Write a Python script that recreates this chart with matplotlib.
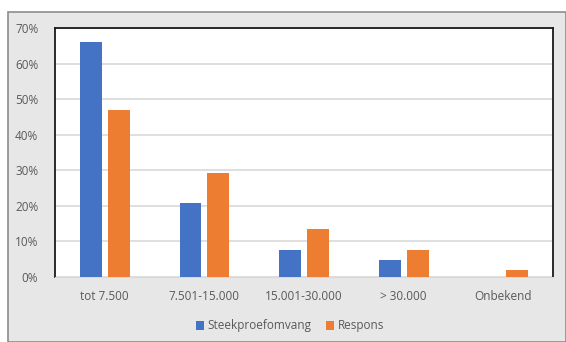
import matplotlib.pyplot as plt
import numpy as np
from matplotlib.patches import Rectangle
from matplotlib.ticker import PercentFormatter

categories = ['tot 7.500', '7.501-15.000', '15.001-30.000', '> 30.000', 'Onbekend']
steekproef = [66.2, 20.8, 7.7, 4.8, 0.0]
respons = [46.9, 29.1, 13.5, 7.7, 2.0]

blue = '#4472c4'
orange = '#ed7d31'
grey_text = '#595959'

plt.rcParams['font.family'] = ['Open Sans', 'DejaVu Sans']

W, H = 566, 342
fig = plt.figure(figsize=(W / 100, H / 100), dpi=100)
fig.patch.set_facecolor('white')

# grey chart panel with darker edge, kept behind the axes
panel = Rectangle((8 / W, 0), 1 - 8 / W, 1 - 12 / H, transform=fig.transFigure,
                  facecolor='#e7e7e7', edgecolor='#8c8c8c', linewidth=1.2, zorder=-5)
fig.add_artist(panel)

ax = fig.add_axes([55 / W, 1 - 277 / H, (553 - 55) / W, (277 - 28) / H])
ax.set_facecolor('white')

x = np.arange(len(categories))
w = 0.22
gap = 0.06
ax.bar(x - (w + gap) / 2, steekproef, w, color=blue, label='Steekproefomvang', zorder=3)
ax.bar(x + (w + gap) / 2, respons, w, color=orange, label='Respons', zorder=3)

ax.set_xlim(-0.5, len(categories) - 0.5)
ax.set_ylim(0, 70)
ax.set_yticks(np.arange(0, 71, 10))
ax.yaxis.set_major_formatter(PercentFormatter(decimals=0))
ax.yaxis.grid(True, color='#d9d9d9', linewidth=1.2, zorder=0)
ax.set_axisbelow(True)

ax.set_xticks(x)
ax.set_xticklabels(categories)
ax.tick_params(axis='both', length=0, labelsize=8.5, colors=grey_text)
ax.tick_params(axis='x', pad=9)
ax.tick_params(axis='y', pad=12)

for side in ['left', 'top', 'right']:
    ax.spines[side].set_color('#1a1a1a')
    ax.spines[side].set_linewidth(1.3)
ax.spines['bottom'].set_color('#d9d9d9')

leg = fig.legend(loc='center', bbox_to_anchor=(290 / W, 1 - 326 / H), ncol=2,
                 frameon=False, fontsize=8.5, handlelength=0.7, handleheight=0.7,
                 handletextpad=0.3, columnspacing=1.2)
for t in leg.get_texts():
    t.set_color(grey_text)

fig.savefig('out.png', dpi=100)
